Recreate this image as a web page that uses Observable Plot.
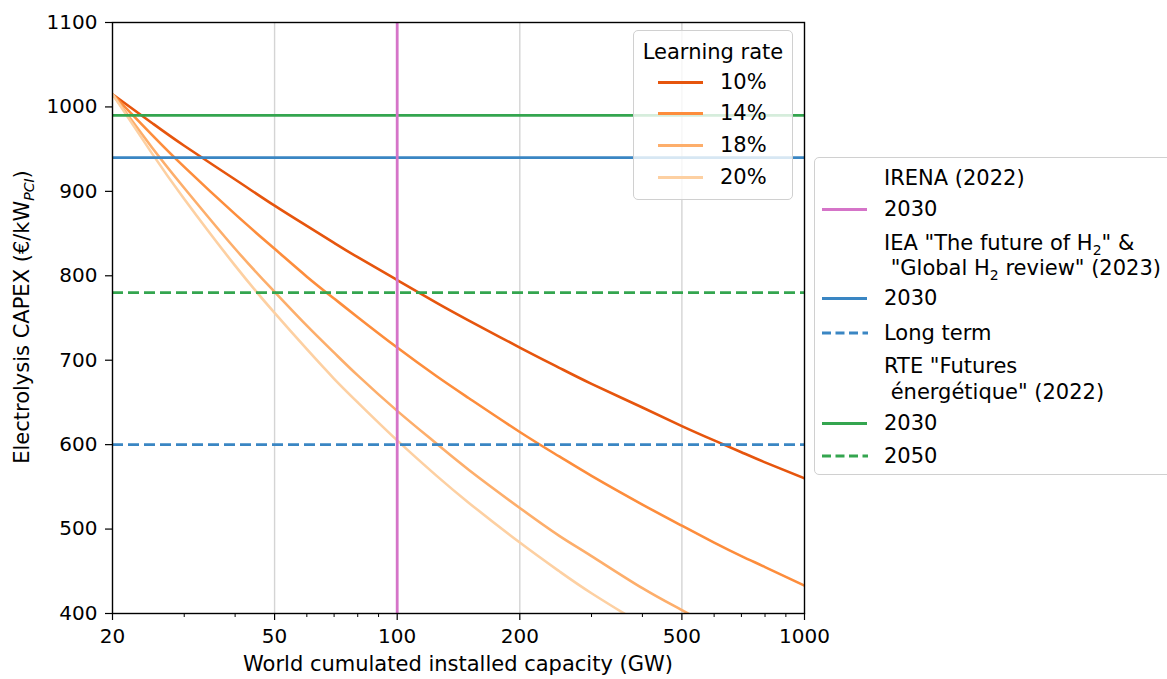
<!DOCTYPE html>
<html><head><meta charset="utf-8">
<script src="https://cdn.jsdelivr.net/npm/d3@7"></script>
<script src="https://cdn.jsdelivr.net/npm/@observablehq/plot@0.6"></script>
<style>
body{margin:0;background:#fff;font-family:"DejaVu Sans",sans-serif;color:#000;}
#wrap{position:relative;width:1167px;height:679px;overflow:hidden;}
.lg{position:absolute;background:rgba(255,255,255,0.8);border:1.5px solid #d0d0d0;border-radius:5px;box-sizing:border-box;}
.row{position:absolute;font-size:21px;white-space:nowrap;line-height:22px;}
.sw{position:absolute;width:45px;height:0;}
.lab{position:absolute;font-size:21px;white-space:nowrap;line-height:22px;}
sub{font-size:14px;line-height:0;}
</style></head><body><div id="wrap"></div>
<script>
// World cumulated installed capacity (GW)
const capacity = [20,25,30,40,50,60,70,80,100,125,150,200,250,300,400,500,600,700,800,1000];
// CAPEX (€/kW) for each learning rate
const lr10 = [1015,981,954,914,883,859,839,822,795,768,747,715,691,672,644,622,605,591,579,560];
const lr14 = [1015,967,929,873,832,799,773,751,715,681,655,615,586,563,529,504,484,468,455,433];
const lr18 = [1015,952,904,832,781,741,709,682,640,601,570,525,492,468,430,404,383,367,353,331];
const lr20 = [1015,945,891,812,756,713,678,650,605,563,531,484,450,424,387,360,340,324,310,288];
const learningRates = ["10%","14%","18%","20%"];
const lrColors = ["#e6550d","#fd8d3c","#fdae6b","#fdd0a2"];

// Reference values
const irena2030Capacity = [100];
const iea2030 = [940];
const ieaLongTerm = [600];
const rte2030 = [990];
const rte2050 = [780];
const pink = "#d574c8", blue = "#3a86c3", green = "#34a54f";

const xTicks = [20,50,100,200,500,1000];
const xMinorTicks = [30,40,60,70,80,90,300,400,600,700,800,900];
const yTicks = [400,500,600,700,800,900,1000,1100];

const series = [lr10, lr14, lr18, lr20];
const table = [];
series.forEach((s, i) => s.forEach((v, j) => table.push({x: capacity[j], y: v, lr: learningRates[i]})));

const chart = Plot.plot({
  width: 1167, height: 679,
  marginLeft: 112, marginRight: 363, marginTop: 22, marginBottom: 66,
  style: {fontFamily: "DejaVu Sans, sans-serif", fontSize: "20px", background: "white"},
  x: {type: "log", domain: [20, 1000]},
  y: {domain: [400, 1100]},
  color: {domain: learningRates, range: lrColors},
  marks: [
    Plot.gridX(xTicks.slice(1, -1), {stroke: "#d4d4d4", strokeOpacity: 1, strokeWidth: 1.4}),
    Plot.line(table, {x: "x", y: "y", stroke: "lr", z: "lr", curve: "natural", strokeWidth: 2.6, clip: true}),
    Plot.ruleY(rte2030, {stroke: green, strokeWidth: 2.6}),
    Plot.ruleY(iea2030, {stroke: blue, strokeWidth: 2.6}),
    Plot.ruleY(rte2050, {stroke: green, strokeWidth: 2.6, strokeDasharray: "11,5"}),
    Plot.ruleY(ieaLongTerm, {stroke: blue, strokeWidth: 2.6, strokeDasharray: "11,5"}),
    Plot.ruleX(irena2030Capacity, {stroke: pink, strokeWidth: 2.8}),
    Plot.axisX({ticks: xTicks, tickFormat: d => String(d), tickSize: 7, tickPadding: 8, label: null, strokeWidth: 1.2}),
    Plot.axisX({ticks: xMinorTicks, tickFormat: () => "", tickSize: 4, label: null, strokeWidth: 1}),
    Plot.axisY({ticks: yTicks, tickFormat: d => String(d), tickSize: 7, tickPadding: 8, label: null, strokeWidth: 1.2}),
    Plot.frame({stroke: "black", strokeWidth: 1.4})
  ]
});

const wrap = document.getElementById("wrap");
wrap.appendChild(chart);

function add(html, cls, style) {
  const d = document.createElement("div");
  d.className = cls;
  d.innerHTML = html;
  Object.assign(d.style, style);
  wrap.appendChild(d);
  return d;
}

// axis labels
add("Electrolysis CAPEX (€/kW<sub><i>PCI</i></sub>)", "lab", {left: "22px", top: "317px", transform: "translate(-50%,-50%) rotate(-90deg)"});
add("World cumulated installed capacity (GW)", "lab", {left: "458px", top: "664px", transform: "translate(-50%,-50%)"});

// Learning-rate legend
add("", "lg", {left: "633px", top: "30px", width: "160px", height: "170px"});
add("Learning rate", "row", {left: "713px", top: "41px", transform: "translateX(-50%)"});
const rowsY1 = [82, 113, 145, 177];
learningRates.forEach((lr, i) => {
  add("", "sw", {left: "658px", top: (rowsY1[i] - 1.5) + "px", borderTop: `3px solid ${lrColors[i]}`});
  add(lr, "row", {left: "720px", top: (rowsY1[i] - 11) + "px"});
});

// Reference legend
add("", "lg", {left: "814px", top: "157px", width: "420px", height: "318px"});
const refRows = [
  {y: 178, text: "IRENA (2022)"},
  {y: 209, text: "2030", color: pink},
  {y: 243, text: "IEA \"The future of H<sub>2</sub>\" &amp;"},
  {y: 268, text: "&nbsp;\"Global H<sub>2</sub> review\" (2023)"},
  {y: 298, text: "2030", color: blue},
  {y: 333, text: "Long term", color: blue, dash: true},
  {y: 366, text: "RTE \"Futures"},
  {y: 392, text: "&nbsp;énergétique\" (2022)"},
  {y: 423, text: "2030", color: green},
  {y: 456, text: "2050", color: green, dash: true}
];
refRows.forEach(r => {
  if (r.color) {
    if (r.dash) {
      const s = document.createElementNS("http://www.w3.org/2000/svg", "svg");
      s.setAttribute("width", 46); s.setAttribute("height", 6);
      Object.assign(s.style, {position: "absolute", left: "822px", top: (r.y - 3) + "px"});
      s.innerHTML = `<line x1="0" x2="46" y1="3" y2="3" stroke="${r.color}" stroke-width="2.8" stroke-dasharray="9,4.5"/>`;
      wrap.appendChild(s);
    } else {
      add("", "sw", {left: "822px", top: (r.y - 1.5) + "px", borderTop: `3px solid ${r.color}`});
    }
  }
  add(r.text, "row", {left: "884px", top: (r.y - 11) + "px"});
});
</script></body></html>
